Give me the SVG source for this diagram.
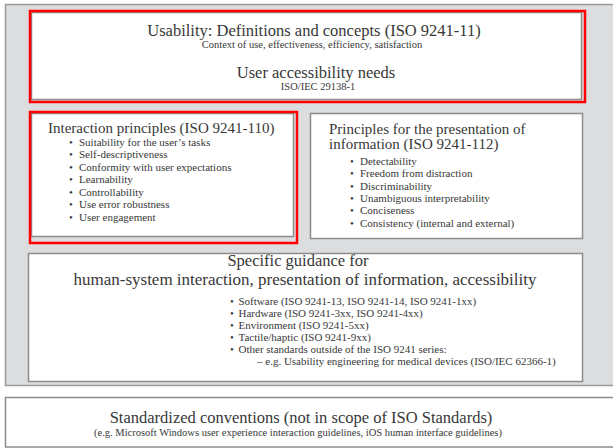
<svg xmlns="http://www.w3.org/2000/svg" width="613" height="448" viewBox="0 0 613 448">
<style>
text{font-family:"Liberation Serif","Times New Roman",serif;fill:#383838}
.box{fill:#fff;stroke:#8c8c8c;stroke-width:1.5}
.red{fill:none;stroke:#ff0000;stroke-width:2.5}
.t1{font-size:16.5px}
.t2{font-size:15px}
.s{font-size:10.5px}
.b{font-size:11px}
.c{text-anchor:middle}
</style>
<rect x="5.5" y="4.5" width="620" height="381" fill="#dcdddf" stroke="#9a9a9a" stroke-width="1.5"/>
<g id="usability">
<rect class="box" x="31.5" y="12.5" width="550" height="87"/>
<rect class="red" x="30" y="11" width="555" height="91"/>
<text class="t1 c" x="314" y="35.5">Usability: Definitions and concepts (ISO 9241-11)</text>
<text class="s c" x="312" y="48">Context of use, effectiveness, efficiency, satisfaction</text>
<text class="t1 c" x="316" y="78">User accessibility needs</text>
<text class="s c" x="318" y="90">ISO/IEC 29138-1</text>
</g>
<g id="interaction">
<rect class="box" x="31.5" y="113.5" width="262" height="123"/>
<rect class="red" x="30" y="112" width="267" height="131"/>
<text class="t2" x="48" y="133">Interaction principles (ISO 9241-110)</text>
<g class="b">
<text x="69" y="145.7">•</text><text x="79" y="145.7">Suitability for the user’s tasks</text>
<text x="69" y="158.2">•</text><text x="79" y="158.2">Self-descriptiveness</text>
<text x="69" y="170.7">•</text><text x="79" y="170.7">Conformity with user expectations</text>
<text x="69" y="183.2">•</text><text x="79" y="183.2">Learnability</text>
<text x="69" y="195.7">•</text><text x="79" y="195.7">Controllability</text>
<text x="69" y="208.2">•</text><text x="79" y="208.2">Use error robustness</text>
<text x="69" y="220.7">•</text><text x="79" y="220.7">User engagement</text>
</g>
</g>
<g id="presentation">
<rect class="box" x="310.5" y="113.5" width="272" height="125"/>
<text class="t2" x="329" y="133.5">Principles for the presentation of</text>
<text class="t2" x="329" y="148.5">information (ISO 9241-112)</text>
<g class="b">
<text x="350" y="165">•</text><text x="360" y="165">Detectability</text>
<text x="350" y="177.3">•</text><text x="360" y="177.3">Freedom from distraction</text>
<text x="350" y="189.6">•</text><text x="360" y="189.6">Discriminability</text>
<text x="350" y="201.9">•</text><text x="360" y="201.9">Unambiguous interpretability</text>
<text x="350" y="214.2">•</text><text x="360" y="214.2">Conciseness</text>
<text x="350" y="226.5">•</text><text x="360" y="226.5">Consistency (internal and external)</text>
</g>
</g>
<g id="guidance">
<rect class="box" x="28.5" y="253.5" width="554" height="128"/>
<text class="t1 c" x="298" y="266">Specific guidance for</text>
<text class="c" style="font-size:17px" x="305" y="285" textLength="463" lengthAdjust="spacingAndGlyphs">human-system interaction, presentation of information, accessibility</text>
<g class="b">
<text x="230" y="305">•</text><text x="238.5" y="305">Software (ISO 9241-13, ISO 9241-14, ISO 9241-1xx)</text>
<text x="230" y="317">•</text><text x="238.5" y="317">Hardware (ISO 9241-3xx, ISO 9241-4xx)</text>
<text x="230" y="329">•</text><text x="238.5" y="329">Environment (ISO 9241-5xx)</text>
<text x="230" y="341">•</text><text x="238.5" y="341">Tactile/haptic (ISO 9241-9xx)</text>
<text x="230" y="353">•</text><text x="238.5" y="353">Other standards outside of the ISO 9241 series:</text>
<text x="257" y="365">– e.g. Usability engineering for medical devices (ISO/IEC 62366-1)</text>
</g>
</g>
<g id="conventions">
<rect class="box" x="5.5" y="397.5" width="620" height="49.5"/>
<text class="t1 c" x="301" y="423">Standardized conventions (not in scope of ISO Standards)</text>
<text class="s c" x="298" y="436">(e.g. Microsoft Windows user experience interaction guidelines, iOS human interface guidelines)</text>
</g>
<g id="connectors"/>
</svg>
